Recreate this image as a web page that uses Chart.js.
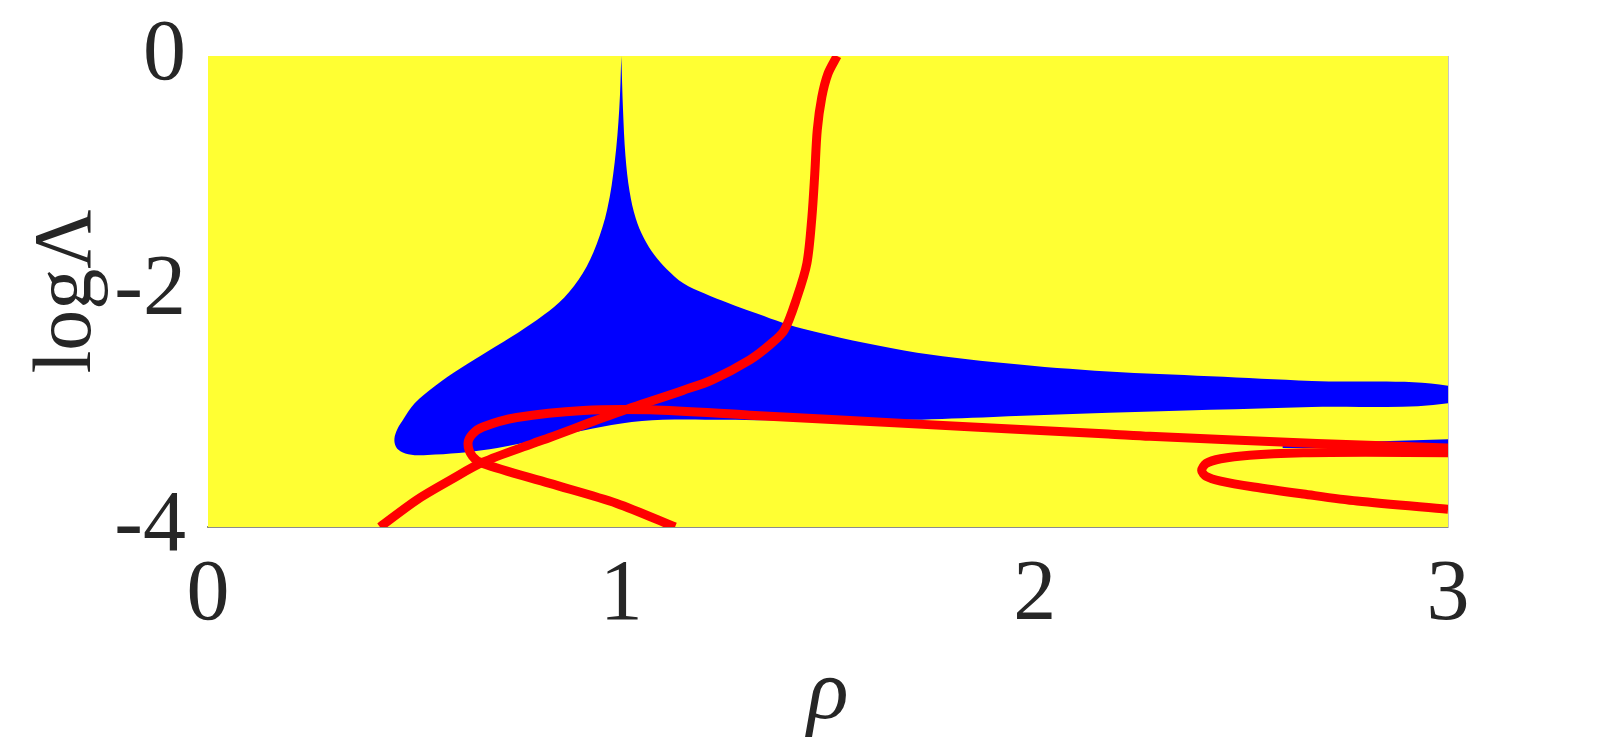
<!DOCTYPE html>
<html>
<head>
<meta charset="utf-8">
<script src="https://cdn.jsdelivr.net/npm/chart.js@4.4.1/dist/chart.umd.min.js"></script>
<style>
  html, body { margin: 0; padding: 0; background: #fff; overflow: hidden; }
  canvas { display: block; }
</style>
</head>
<body>
<canvas id="chart" width="1600" height="800"></canvas>
<script>
// axis ticks
var xTicks = [0, 1, 2, 3];
var yTicks = [0, -2, -4];

// yellow background (whole plane)
var bgRho = [0, 3];
var bgLog = [0, 0];

// blue region boundary, walked round from the cusp at rho = 1
var blueRho = [1.0, 1.004, 1.01, 1.02, 1.035, 1.055, 1.08, 1.11, 1.15, 1.20, 1.26, 1.314, 1.437, 1.684, 1.931, 2.178, 2.425, 2.671, 3.0,
               3.0, 2.67, 2.18, 1.9, 1.7, 1.45, 1.25, 1.1, 1.0, 0.908, 0.80, 0.70, 0.626, 0.55, 0.50, 0.47, 0.455, 0.451, 0.458, 0.47,
               0.50, 0.55, 0.612, 0.68, 0.75, 0.812, 0.862, 0.906, 0.94, 0.966, 0.984, 0.995, 1.0];
var blueLog = [0, -0.45, -0.85, -1.15, -1.38, -1.55, -1.69, -1.81, -1.93, -2.015, -2.10, -2.17, -2.315, -2.50, -2.61, -2.68, -2.72, -2.76, -2.80,
               -2.95, -2.98, -3.03, -3.065, -3.09, -3.10, -3.09, -3.09, -3.12, -3.18, -3.26, -3.33, -3.365, -3.385, -3.39, -3.365, -3.32, -3.25, -3.17, -3.10,
               -2.95, -2.80, -2.65, -2.50, -2.35, -2.20, -2.05, -1.85, -1.60, -1.30, -0.90, -0.45, 0];

// thin blue sliver at the right, under the red lines
var sliverRho = [2.60, 2.8, 3.0, 3.0, 2.60];
var sliverLog = [-3.30, -3.275, -3.255, -3.33, -3.33];

// red curves
var curveARho = [0.416, 0.505, 0.587, 0.665, 0.787, 0.827, 0.989, 1.149, 1.22, 1.311, 1.36, 1.394, 1.425, 1.449, 1.461, 1.468, 1.474, 1.485, 1.50, 1.522];
var curveALog = [-4, -3.77, -3.60, -3.45, -3.29, -3.24, -3.03, -2.84, -2.75, -2.58, -2.45, -2.33, -2.05, -1.76, -1.37, -1.0, -0.63, -0.35, -0.15, 0];

var curveBRho = [1.130, 0.989, 0.827, 0.665, 0.64, 0.629, 0.64, 0.665, 0.747, 0.908, 1.069, 1.311, 1.684, 2.178, 2.279, 2.683, 3.0];
var curveBLog = [-4, -3.80, -3.63, -3.46, -3.40, -3.29, -3.21, -3.15, -3.07, -3.01, -3.005, -3.05, -3.12, -3.21, -3.23, -3.29, -3.33];

var loopRho = [3.0, 2.8, 2.65, 2.52, 2.45, 2.415, 2.404, 2.415, 2.45, 2.53, 2.65, 2.78, 3.0];
var loopLog = [-3.37, -3.365, -3.37, -3.39, -3.42, -3.46, -3.52, -3.57, -3.61, -3.66, -3.72, -3.78, -3.85];

function pts(xs, ys) {
  return xs.map(function(x, i) { return { x: x, y: ys[i] }; });
}

var serif = "'Liberation Serif', Tinos, 'Nimbus Roman', 'Nimbus Roman No9 L', FreeSerif, 'DejaVu Serif Condensed', 'DejaVu Serif', serif";
var ink = '#262626';

function redLine(xs, ys) {
  return {
    data: pts(xs, ys),
    showLine: true,
    borderColor: '#ff0000',
    borderWidth: 9,
    borderCapStyle: 'butt',
    borderJoinStyle: 'round',
    pointRadius: 0,
    tension: 0.3,
    fill: false,
    order: 0
  };
}

new Chart(document.getElementById('chart'), {
  type: 'scatter',
  data: {
    datasets: [
      redLine(curveARho, curveALog),
      redLine(curveBRho, curveBLog),
      redLine(loopRho, loopLog),
      {
        data: pts(sliverRho, sliverLog),
        showLine: true,
        borderWidth: 0,
        borderColor: 'rgba(0,0,0,0)',
        backgroundColor: '#0000ff',
        pointRadius: 0,
        tension: 0,
        fill: 'shape',
        order: 1
      },
      {
        data: pts(blueRho, blueLog),
        showLine: true,
        borderWidth: 0,
        borderColor: 'rgba(0,0,0,0)',
        backgroundColor: '#0000ff',
        pointRadius: 0,
        tension: 0.35,
        fill: 'shape',
        order: 2
      },
      {
        data: pts(bgRho, bgLog),
        showLine: true,
        borderWidth: 0,
        borderColor: 'rgba(0,0,0,0)',
        backgroundColor: '#ffff33',
        pointRadius: 0,
        fill: 'start',
        order: 3
      }
    ]
  },
  options: {
    responsive: false,
    animation: false,
    devicePixelRatio: 1,
    layout: { padding: { top: 56, right: 152, left: 0, bottom: 0 } },
    plugins: { legend: { display: false }, tooltip: { enabled: false } },
    scales: {
      x: {
        type: 'linear',
        min: 0,
        max: 3,
        z: 1,
        afterBuildTicks: function(s) { s.ticks = xTicks.map(function(v) { return { value: v }; }); },
        afterFit: function(s) { s.height = 273; },
        ticks: { font: { family: serif, size: 86, lineHeight: 1 }, color: ink, padding: 26 },
        grid: {
          drawTicks: false,
          lineWidth: 1.5,
          color: function(c) { return c.tick && c.tick.value === 3 ? '#8c8c8c' : 'rgba(0,0,0,0)'; }
        },
        border: { color: '#8c8c8c', width: 2 },
        title: {
          display: true,
          text: 'ρ',
          font: { family: serif, size: 86, style: 'italic' },
          color: ink,
          padding: { top: 0, bottom: 53 }
        }
      },
      y: {
        type: 'linear',
        min: -4,
        max: 0,
        z: 1,
        afterBuildTicks: function(s) { s.ticks = yTicks.map(function(v) { return { value: v }; }); },
        afterFit: function(s) { s.width = 208; },
        ticks: { font: { family: serif, size: 86, lineHeight: 0.6 }, color: ink, padding: 22 },
        grid: {
          drawTicks: false,
          lineWidth: 1,
          color: function(c) { return c.tick && c.tick.value === 0 ? 'rgba(160,150,0,0.45)' : 'rgba(0,0,0,0)'; }
        },
        border: { color: 'rgba(160,150,0,0.45)', width: 1 },
        title: {
          display: true,
          text: 'logΛ',
          font: { family: serif, size: 82 },
          color: ink,
          padding: { top: 19, bottom: 0 }
        }
      }
    }
  }
});
</script>
</body>
</html>
